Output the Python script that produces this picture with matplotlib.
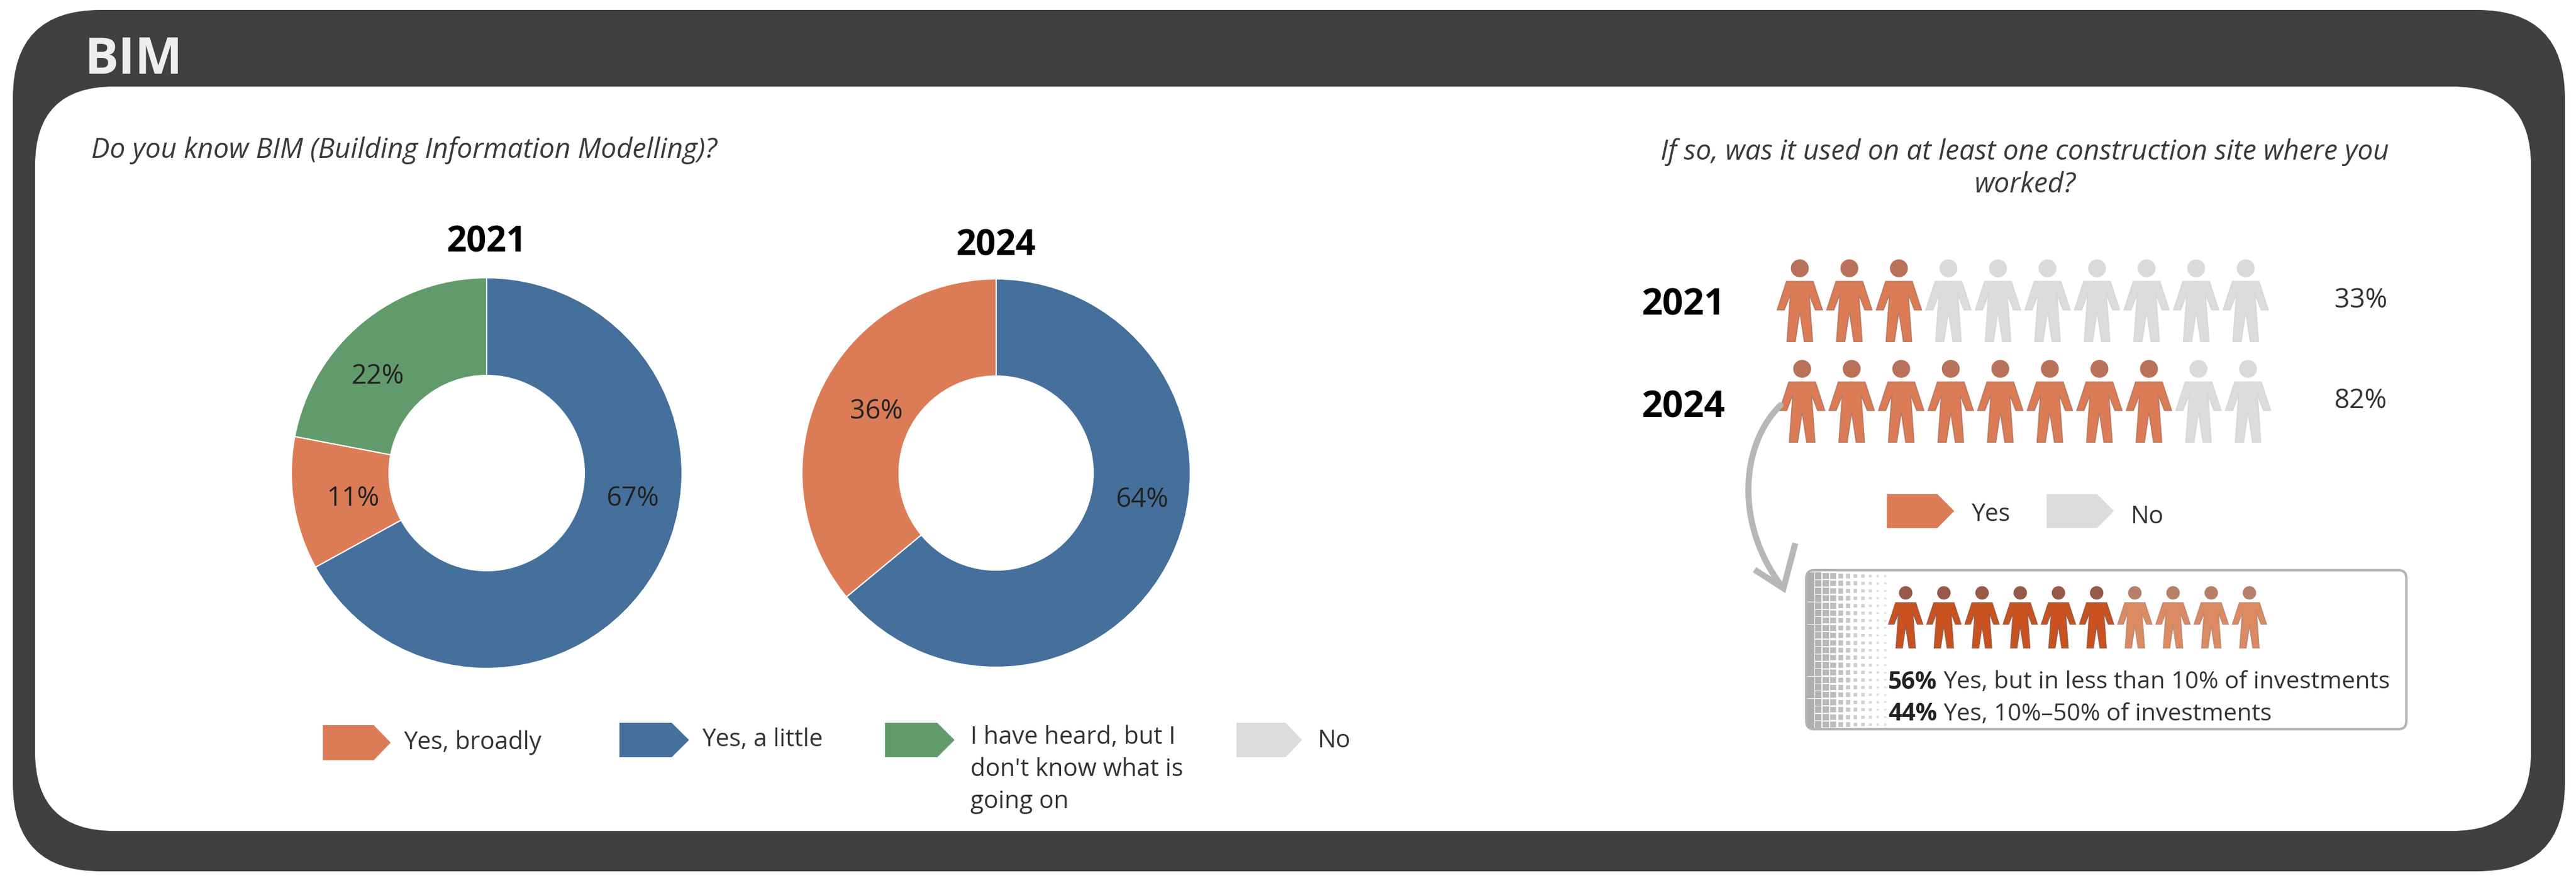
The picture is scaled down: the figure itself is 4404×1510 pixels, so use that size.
import numpy as np
import matplotlib
matplotlib.use("Agg")
import matplotlib.pyplot as plt
from matplotlib.patches import FancyBboxPatch, Polygon, Circle, PathPatch
from matplotlib.path import Path

plt.rcParams['font.family'] = ['Open Sans', 'DejaVu Sans']

# data
years = ["2021", "2024"]
pie_cats = ["Yes, a little", "Yes, broadly", "I have heard, but I\ndon't know what is\ngoing on", "No"]
pie_2021 = [67, 11, 22, 0]
pie_2024 = [64, 36, 0, 0]
site_pct = [33, 82]
site_people_yes = [3, 8]
people_total = 10
invest_pct = [56, 44]
invest_text = ["Yes, but in less than 10% of investments", "Yes, 10%\u201350% of investments"]
invest_people = [6, 4]

DARK = "#404040"
ORANGE = "#dc7c56"
BLUE = "#44709b"
GREEN = "#629b6b"
GREY = "#dcdcdc"
TEXT = "#333333"
pie_cols = [BLUE, ORANGE, GREEN, GREY]

W, H = 4404, 1510
fig = plt.figure(figsize=(W / 100, H / 100), dpi=100, facecolor="white")
ax = fig.add_axes([0, 0, 1, 1])
ax.set_xlim(0, W)
ax.set_ylim(H, 0)
ax.axis("off")


def rbox(x0, y0, x1, y1, r, fc, ec="none", lw=0, z=1):
    ax.add_patch(FancyBboxPatch((x0 + r, y0 + r), x1 - x0 - 2 * r, y1 - y0 - 2 * r,
                                boxstyle="round,pad=%d,rounding_size=%d" % (r, r),
                                fc=fc, ec=ec, lw=lw, zorder=z))


def person(cx, top, h, col, edge, headcol):
    s = h / 143.0
    half = [(0, 39), (23, 39), (39, 88), (27, 88), (16, 60), (22, 143), (8, 143), (0, 90)]
    right = [(cx + a * s, top + b * s) for a, b in half]
    left = [(cx - a * s, top + b * s) for a, b in half[::-1]]
    ax.add_patch(Polygon(right + left, closed=True, fc=col, ec=edge, lw=1.5, zorder=4))
    ax.add_patch(Circle((cx, top + 16 * s), 15.5 * s, fc=headcol, ec="none", zorder=4))


def swatch(x0, x1, y0, y1, col):
    xb = x1 - (x1 - x0) * 0.25
    ax.add_patch(Polygon([(x0, y0), (xb, y0), (x1, (y0 + y1) / 2), (xb, y1), (x0, y1)],
                         closed=True, fc=col, ec="none", zorder=4))


# frame
rbox(22, 17, 4385, 1490, 150, DARK, z=1)
rbox(60, 148, 4327, 1421, 135, "white", z=2)
ax.text(144, 103, "BIM", color="#eeeeee", fontsize=62, fontweight="bold", va="center", zorder=5)

# questions
ax.text(156, 257, "Do you know BIM (Building Information Modelling)?", fontsize=34, style="italic",
        color="#3a3a3a", va="center", zorder=5)
ax.text(3462, 288, "If so, was it used on at least one construction site where you\nworked?", fontsize=34,
        style="italic", color="#3a3a3a", ha="center", va="center", linespacing=1.25, zorder=5)

# donuts
centers = [(832, 809, 334), (1703, 809, 332)]
title_y = [415, 421]
label_pos = [[(1082, 853), (604, 853), (646, 644)], [(1953, 855), (1498, 704)]]
for i, vals in enumerate([pie_2021, pie_2024]):
    cx, cy, r = centers[i]
    a = fig.add_axes([(cx - r) / W, 1 - (cy + r) / H, 2 * r / W, 2 * r / H])
    keep = [k for k, v in enumerate(vals) if v > 0]
    a.pie([vals[k] for k in keep], colors=[pie_cols[k] for k in keep], startangle=90, counterclock=False,
          radius=1, wedgeprops=dict(width=0.5, edgecolor="white", linewidth=1.5))
    a.set_xlim(-1, 1)
    a.set_ylim(-1, 1)
    ax.text(cx, title_y[i], years[i], fontsize=43, fontweight="bold", color="black",
            ha="center", va="center", zorder=5)
    for k, p in zip(keep, label_pos[i]):
        fig.text(p[0] / W, 1 - p[1] / H, "%d%%" % vals[k], fontsize=33, color="#222222",
                 ha="center", va="center", zorder=6)

# donut legend
leg_order = [1, 0, 2, 3]
leg_sw = [(552, 668, 1240, 1300), (1059, 1178, 1236, 1295), (1513, 1632, 1236, 1295), (2114, 2226, 1236, 1295)]
leg_tx = [(690, 1270), (1200, 1265), (1659, 1316), (2253, 1267)]
for k, sw, tp in zip(leg_order, leg_sw, leg_tx):
    swatch(sw[0], sw[1], sw[2], sw[3], pie_cols[k])
    ax.text(tp[0], tp[1], pie_cats[k], fontsize=30, color=TEXT, va="center", linespacing=1.4, zorder=5)

# people rows
row_x = [3077, 3081]
row_top = [443, 615]
for i in range(2):
    for j in range(people_total):
        if j < site_people_yes[i]:
            person(row_x[i] + j * 84.7, row_top[i], 141, ORANGE, "#bd7a60", "#b9715a")
        else:
            person(row_x[i] + j * 84.7, row_top[i], 141, GREY, "#d8d8d8", "#dadada")
    ax.text(2807, [522, 697][i], years[i], fontsize=45, fontweight="bold", color="black", va="center", zorder=5)
    ax.text(4036, [514, 686][i], "%d%%" % site_pct[i], fontsize=33, color=TEXT, ha="center", va="center", zorder=5)

swatch(3226, 3341, 845, 903, ORANGE)
ax.text(3370, 880, "Yes", fontsize=30, color=TEXT, va="center", zorder=5)
swatch(3499, 3614, 845, 903, GREY)
ax.text(3643, 884, "No", fontsize=30, color=TEXT, va="center", zorder=5)

# arrow
ARROW = "#b7b7b7"
ax.add_patch(PathPatch(Path([(3044, 693), (2975, 760), (2965, 900), (3049, 1006)],
                            [Path.MOVETO, Path.CURVE4, Path.CURVE4, Path.CURVE4]),
                       fc="none", ec=ARROW, lw=7.5, capstyle="round", zorder=5))
ax.plot([3004, 3049, 3068], [977, 1006, 934], color=ARROW, lw=7.5, solid_joinstyle="miter", zorder=5)

# detail box
rbox(3088, 975, 4114, 1247, 14, "white", ec="#b4b4b4", lw=3, z=3)
gx = np.arange(3096, 3226, 12.7)
gy = np.arange(985, 1243, 12.7)
xx, yy = np.meshgrid(gx, gy)
frac = (xx - gx[0]) / (gx[-1] - gx[0])
shade = plt.cm.gray(0.68 + 0.2 * frac)
ax.scatter(xx.ravel(), yy.ravel(), s=(75 * (1 - frac) ** 1.6 + 5).ravel(), c=shade.reshape(-1, 4), marker="s",
           linewidths=0, zorder=3.5)

for j in range(sum(invest_people)):
    if j < invest_people[0]:
        person(3258 + j * 65.3, 1002, 106, "#c9521f", "#a65a3e", "#97594a")
    else:
        person(3258 + j * 65.3, 1002, 106, "#db8a62", "#c48a70", "#b5806a")

for i, y in enumerate([1167, 1222]):
    ax.text(3228, y, "%d%%" % invest_pct[i], fontsize=29.5, fontweight="bold", color="#222222", va="center", zorder=5)
    ax.text(3322, y, invest_text[i], fontsize=29.5, color=TEXT, va="center", zorder=5)

fig.savefig("out.png", dpi=100, facecolor="white")
